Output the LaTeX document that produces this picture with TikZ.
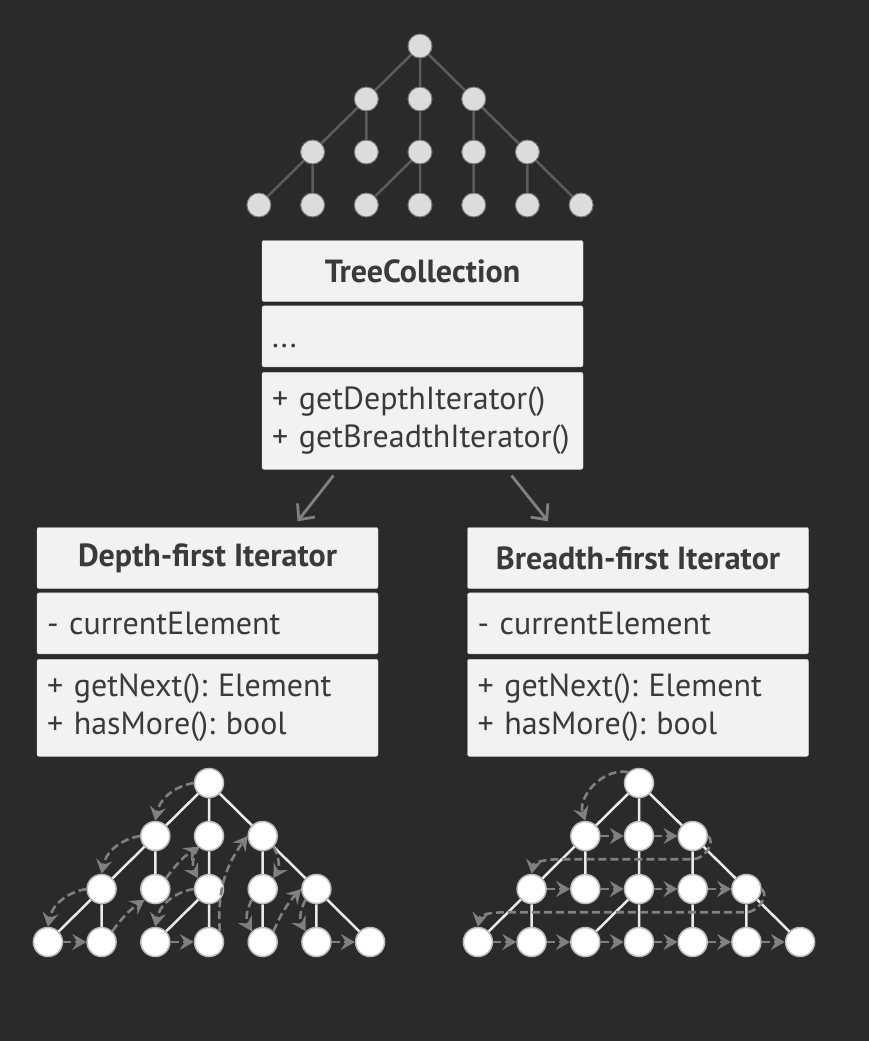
\documentclass[tikz,border=0pt]{standalone}
\usepackage{fontspec}
\setmainfont{PT Sans}
\usepackage{xcolor}
\usepackage{tikz}
\usetikzlibrary{arrows.meta}
\usetikzlibrary{positioning}
\definecolor{bgdark}{HTML}{2A2A2A}
\definecolor{boxfill}{HTML}{F2F2F2}
\definecolor{boxedge}{HTML}{D0D0D0}
\definecolor{boxtext}{HTML}{3A3A3A}
\definecolor{treeline}{HTML}{5C5C5C}
\definecolor{dotfill}{HTML}{DCDCDC}
\definecolor{ringedge}{HTML}{BDBDBD}
\definecolor{walkgray}{HTML}{808080}
\tikzset{
    box/.style = {draw=boxedge, fill=boxfill, text=boxtext, rounded corners=2pt, thin, font=\fontsize{32}{38}\selectfont\frenchspacing},
    head/.style = {box, font=\fontsize{32}{38}\selectfont\bfseries, align=center, minimum height=61pt, minimum width=#1},
    field/.style = {box, align=left, text width=#1, inner xsep=10pt, inner ysep=2pt, minimum height=61pt},
    ops/.style = {field=#1, minimum height=97pt},
    dot/.style = {circle, fill=dotfill, draw=white!35!bgdark, line width=1pt, inner sep=0pt, minimum size=24pt},
    ring/.style = {circle, fill=white, draw=ringedge, line width=1.5pt, inner sep=0pt, minimum size=29pt},
    treegrid/.style = {level distance=53pt, sibling distance=53.7pt},
    dimedge/.style = {edge from parent/.style={draw=treeline, line width=2.5pt}},
    whiteedge/.style = {edge from parent/.style={draw=white!92!black, line width=2.5pt}},
    uses/.style = {draw=walkgray, line width=2.8pt, -{Straight Barb[length=12pt, width=22pt]}},
    walk/.style = {draw=walkgray, line width=2.6pt, dash pattern=on 8pt off 4pt, -{Stealth[length=14pt, width=16pt, inset=5pt]}}
}
% one tree: #1 name prefix, #2 root position, #3 node style
\newcommand{\gridtree}[3]{%
    \node [#3] (#1r) at #2 {}
    child { node [#3] (#1a) {}
        child { node [#3] (#1aa) {}
            child { node [#3] (#1aaa) {} }
            child { node [#3] (#1aab) {} }
            child [missing]
        }
        child { node [#3] (#1ab) {} }
        child [missing]
    }
    child { node [#3] (#1b) {}
        child [missing]
        child { node [#3] (#1ba) {}
            child { node [#3] (#1baa) {} }
            child { node [#3] (#1bab) {} }
            child [missing]
        }
        child [missing]
    }
    child { node [#3] (#1c) {}
        child [missing]
        child { node [#3] (#1ca) {}
            child [missing]
            child { node [#3] (#1caa) {} }
            child [missing]
        }
        child { node [#3] (#1cb) {}
            child [missing]
            child { node [#3] (#1cba) {} }
            child { node [#3] (#1cbb) {} }
        }
    };
}
\begin{document}
\begin{tikzpicture}[x=1pt, y=1pt]

    \fill [bgdark] (0,0) rectangle (869,-1041);

    % collection tree
    \begin{scope}[treegrid, dimedge]
        \gridtree{t-}{(420,-46)}{dot}
    \end{scope}

    % classes
    \node [head=321pt] (tc-head) at (422.5,-271) {TreeCollection};
    \node [field=301pt, below=4pt of tc-head] (tc-attr) {\vphantom{l}...};
    \node [ops=301pt, below=5pt of tc-attr] (tc-ops) {+ getDepthIterator()\\+ getBreadthIterator()};

    \node [head=341pt] (df-head) at (207.5,-558) {Depth-first Iterator};
    \node [field=321pt, below=4pt of df-head] (df-attr) {- currentElement};
    \node [ops=321pt, below=5pt of df-attr] (df-ops) {+ getNext(): Element\\+ hasMore(): bool};

    \node [head=341pt] (bf-head) at (638,-558) {Breadth-first Iterator};
    \node [field=321pt, below=4pt of bf-head] (bf-attr) {- currentElement};
    \node [ops=321pt, below=5pt of bf-attr] (bf-ops) {+ getNext(): Element\\+ hasMore(): bool};

    \draw [uses] ([xshift=-89pt, yshift=-6pt]tc-ops.south) -- ([xshift=90pt, yshift=6pt]df-head.north);
    \draw [uses] ([xshift=89pt, yshift=-6pt]tc-ops.south) -- ([xshift=-90pt, yshift=6pt]bf-head.north);

    % walked trees
    \begin{scope}[treegrid, whiteedge]
        \gridtree{d-}{(209,-783)}{ring}
        \gridtree{b-}{(639,-783)}{ring}
    \end{scope}

    % depth-first walk
    \draw [walk] (d-r.west) to [bend right=35] (d-a.north);
    \draw [walk] (d-a.west) to [bend right=35] (d-aa.north);
    \draw [walk] (d-aa.west) to [bend right=35] (d-aaa.north);
    \draw [walk] (d-aaa) -- (d-aab);
    \draw [walk] (d-aab.north east) to [bend left=10] (d-ab.south west);
    \draw [walk] (d-ab.north east) to [bend left=10] (d-b.south west);
    \draw [walk] (d-b.south west) to [bend right=30] (d-ba.north west);
    \draw [walk] (d-ba.west) to [bend right=35] (d-baa.north);
    \draw [walk] (d-baa) -- (d-bab);
    \draw [walk] (d-bab.north east) to [bend left=20] (d-c.west);
    \draw [walk] (d-c.south east) to [bend left=30] (d-ca.north east);
    \draw [walk] (d-ca.south west) to [bend right=30] (d-caa.north west);
    \draw [walk] (d-caa.north east) to [bend left=10] (d-cb.west);
    \draw [walk] (d-cb.south west) to [bend right=30] (d-cba.north west);
    \draw [walk] (d-cba) -- (d-cbb);

    % breadth-first walk
    \draw [walk] (b-r.north west) to [bend right=60] (b-a.north);
    \foreach \u/\v in {a/b, b/c, aa/ab, ab/ba, ba/ca, ca/cb, aaa/aab, aab/baa, baa/bab, bab/caa, caa/cba, cba/cbb}
        \draw [walk] (b-\u) -- (b-\v);
    \draw [walk] (b-c.east) to [out=-40, in=0] ([yshift=-8pt]b-c.south)
        -- ([xshift=-25pt, yshift=-8pt]b-a.south) to [out=180, in=80] (b-aa.north);
    \draw [walk] (b-cb.east) to [out=-40, in=0] ([yshift=-8pt]b-cb.south)
        -- ([xshift=-20pt, yshift=-8pt]b-aa.south) to [out=180, in=80] (b-aaa.north);

\end{tikzpicture}
\end{document}
